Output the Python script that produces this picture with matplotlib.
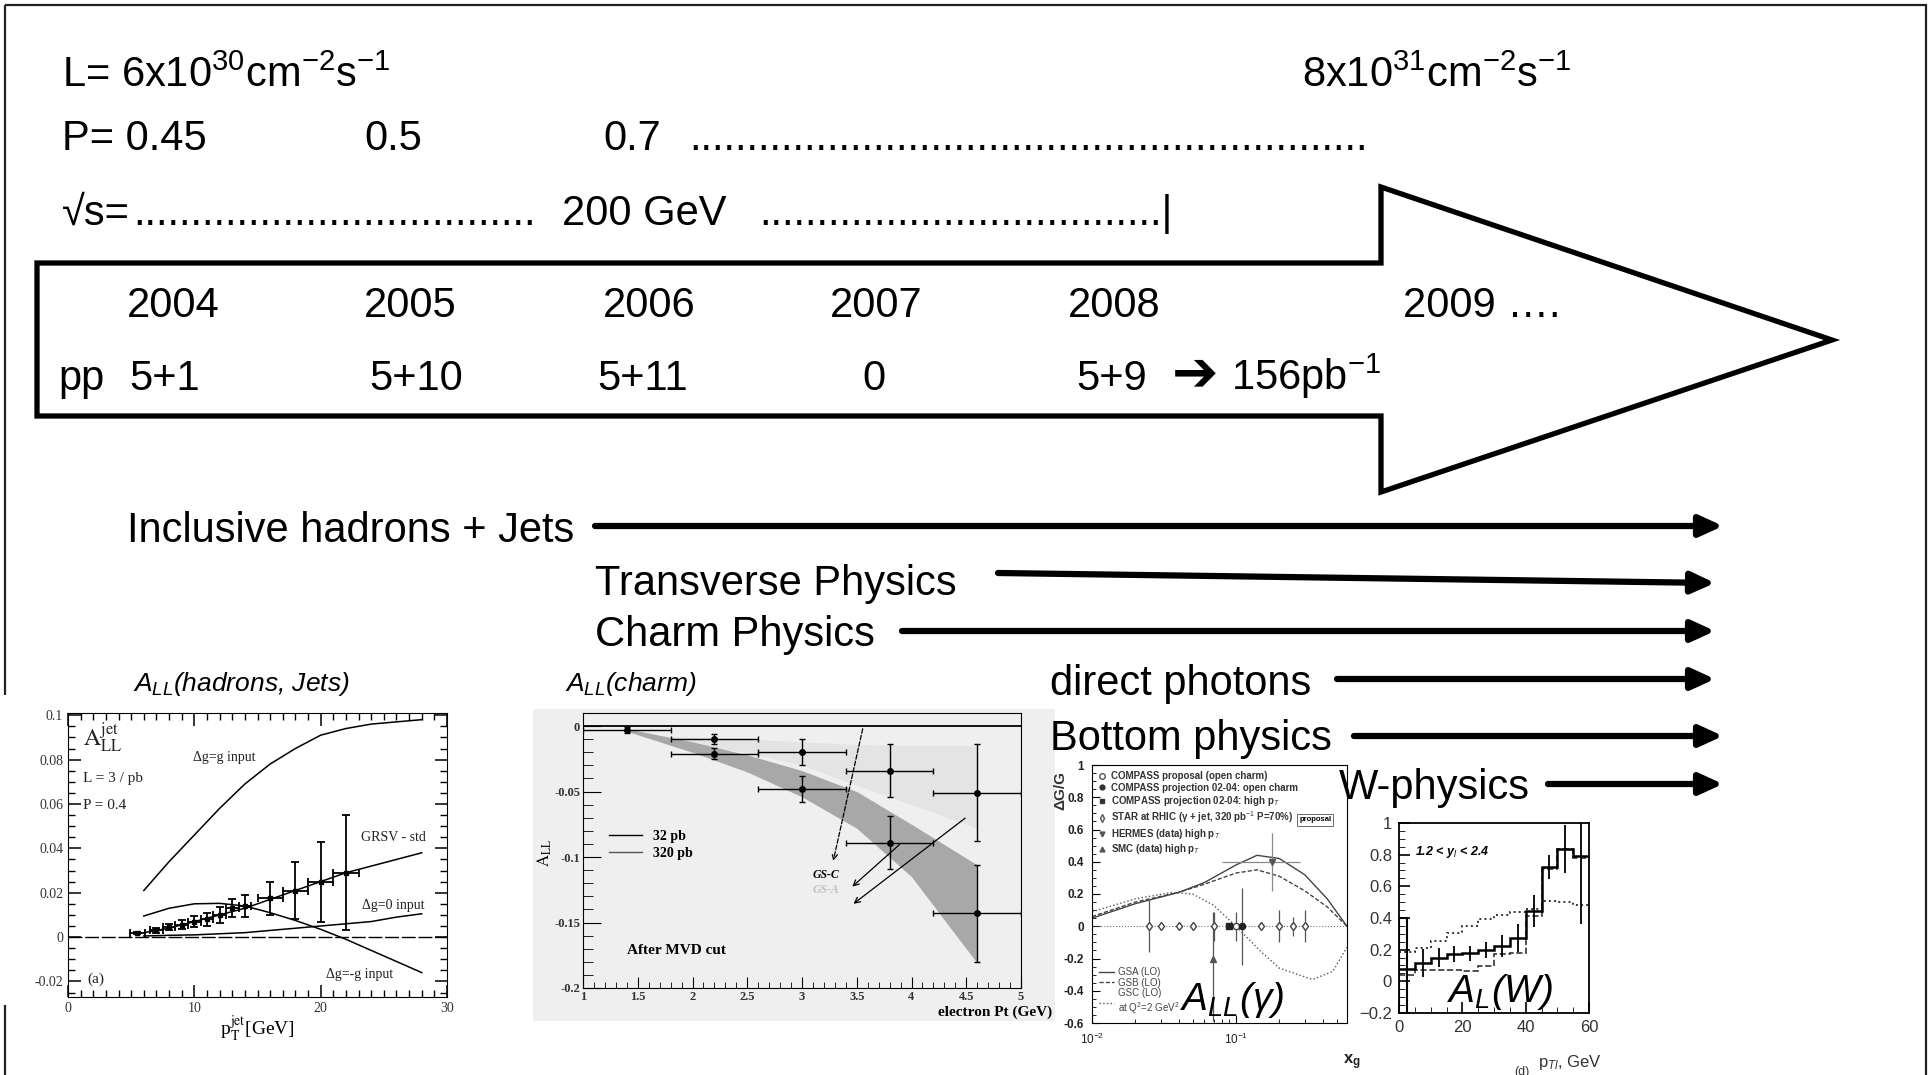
import numpy as np
import matplotlib.pyplot as plt
from matplotlib.patches import Polygon, Rectangle
from matplotlib.lines import Line2D
from matplotlib.ticker import MultipleLocator, NullFormatter

plt.rcParams['font.family'] = ['Liberation Sans', 'DejaVu Sans']
plt.rcParams['mathtext.fontset'] = 'custom'
plt.rcParams['mathtext.rm'] = 'Liberation Sans'
plt.rcParams['mathtext.it'] = 'Liberation Sans:italic'
plt.rcParams['mathtext.bf'] = 'Liberation Sans:bold'

W, H = 1930, 1075
SERIF = ['Liberation Serif', 'DejaVu Serif']

# ---- slide text ----
lumi_start = 'L= 6x10$^{30}$cm$^{-2}$s$^{-1}$'
lumi_end = '8x10$^{31}$cm$^{-2}$s$^{-1}$'
pol_values = ['P= 0.45', '0.5', '0.7']
years = ['2004', '2005', '2006', '2007', '2008', '2009 ….']
pp_runs = ['pp', '5+1', '5+10', '5+11', '0', '5+9']
programs = ['Inclusive hadrons + Jets', 'Transverse Physics', 'Charm Physics',
            'direct photons', 'Bottom physics', 'W-physics']

# positions on the slide (pixels)
pol_x = [62, 364, 603]
year_x = [127, 364, 603, 830, 1068, 1403]
pp_x = [58, 129, 369, 597, 862, 1076]
prog_x = [127, 595, 595, 1050, 1050, 1339]
prog_y = [542, 595, 646, 695, 750, 799]
arrow_x0 = [595, 998, 902, 1337, 1354, 1548]
arrow_y0 = [526, 573, 631, 679, 736, 784]
arrow_x1 = [1723, 1715, 1715, 1715, 1723, 1723]
arrow_y1 = [526, 583, 631, 679, 736, 784]

# ---- A_LL jets ----
jet_curve_pt = [6, 8, 10, 12, 14, 16, 18, 20, 22, 24, 26, 28]
jet_dg_g = [0.021, 0.034, 0.046, 0.058, 0.069, 0.078, 0.085, 0.091, 0.094, 0.096, 0.097, 0.098]
jet_grsv = [0.002, 0.004, 0.007, 0.010, 0.013, 0.017, 0.021, 0.025, 0.029, 0.032, 0.035, 0.038]
jet_dg_0 = [0.0005, 0.0008, 0.001, 0.0015, 0.002, 0.003, 0.004, 0.005, 0.006, 0.007, 0.009, 0.0105]
jet_dg_mg = [0.0095, 0.013, 0.015, 0.0152, 0.014, 0.011, 0.0075, 0.0035, -0.001, -0.006, -0.011, -0.016]
jet_pt = [5.5, 7, 8, 9, 10, 11, 12, 13, 14, 16, 18, 20, 22]
jet_all = [0.002, 0.003, 0.0045, 0.0055, 0.007, 0.008, 0.010, 0.013, 0.014, 0.0175, 0.021, 0.025, 0.029]
jet_err = [0.0005, 0.001, 0.0015, 0.002, 0.0025, 0.003, 0.0035, 0.004, 0.005, 0.0075, 0.013, 0.018, 0.026]
jet_xerr = [0.6, 0.5, 0.5, 0.5, 0.5, 0.5, 0.5, 0.5, 0.5, 1, 1, 1, 1]

# ---- A_LL charm ----
charm_pt = [1.4, 2.2, 2.2, 3.0, 3.0, 3.8, 3.8, 4.6, 4.6]
charm_all = [-0.003, -0.010, -0.021, -0.020, -0.048, -0.034, -0.089, -0.051, -0.143]
charm_err = [0.002, 0.004, 0.004, 0.0098, 0.0098, 0.02, 0.02, 0.037, 0.037]
band_pt = [1.4, 2.0, 2.5, 3.0, 3.5, 4.0, 4.6]
band_up = [-0.002, -0.012, -0.022, -0.034, -0.050, -0.075, -0.106]
band_lo = [-0.004, -0.020, -0.035, -0.054, -0.078, -0.115, -0.181]
light_pt = [1.8, 2.5, 3.0, 3.5, 4.0, 4.6]
light_up = [-0.008, -0.010, -0.012, -0.014, -0.015, -0.015]
light_lo = [-0.012, -0.020, -0.030, -0.045, -0.060, -0.078]

# ---- delta G / G vs x_g ----
gsa_x = [0.01, 0.02, 0.04, 0.06, 0.1, 0.14, 0.2, 0.3, 0.43, 0.59]
gsa_y = [0.05, 0.14, 0.21, 0.27, 0.38, 0.44, 0.42, 0.32, 0.17, 0.0]
gsb_y = [0.06, 0.15, 0.21, 0.26, 0.33, 0.35, 0.31, 0.22, 0.12, 0.0]
gsc_x = [0.01, 0.02, 0.036, 0.05, 0.07, 0.1, 0.15, 0.2, 0.34, 0.47, 0.59]
gsc_y = [0.09, 0.17, 0.21, 0.20, 0.13, 0.0, -0.16, -0.26, -0.33, -0.28, -0.13]
star_x = [0.025, 0.03, 0.04, 0.05, 0.07, 0.15, 0.2, 0.25, 0.3]
star_y = [0, 0, 0, 0, 0, 0, 0, 0, 0]
star_err = [0.16, 0.02, 0.02, 0.02, 0.09, 0.02, 0.1, 0.06, 0.1]
compass_prop = (0.1, 0.0, 0.09)
compass_charm = (0.11, 0.0, 0.24)
compass_hipt = (0.089, 0.0, 0.01)
hermes = (0.178, 0.40, 0.18)
smc = (0.069, -0.2, 0.39, 0.29)

# ---- A_L(W) ----
w_edges = [0, 5, 10, 15, 20, 25, 30, 35, 40, 45, 50, 55, 60]
w_centers = [2.5, 7.5, 12.5, 17.5, 22.5, 27.5, 32.5, 37.5, 42.5, 47.5, 52.5, 57.5]
w_solid = [0.078, 0.117, 0.148, 0.17, 0.176, 0.2, 0.222, 0.275, 0.445, 0.72, 0.837, 0.79]
w_err = [0.03, 0.09, 0.06, 0.05, 0.05, 0.05, 0.07, 0.09, 0.1, 0.075, 0.15, 0.43]
w_dotted = [0.184, 0.21, 0.254, 0.307, 0.35, 0.392, 0.417, 0.44, 0.455, 0.51, 0.5, 0.48]
w_dashed = [0.042, 0.074, 0.074, 0.074, 0.064, 0.095, 0.17, 0.18, 0.41, 0.71, 0.837, 0.78]
w_spike = [0.4]
w_spike_edges = [0, 2.4]


fig = plt.figure(figsize=(W / 100, H / 100), dpi=100)


def px_axes(x0, y0, x1, y1, **kw):
    return fig.add_axes([x0 / W, 1 - y1 / H, (x1 - x0) / W, (y1 - y0) / H], **kw)


def overlay():
    a = px_axes(0, 0, W, H)
    a.set_xlim(0, W)
    a.set_ylim(H, 0)
    a.axis('off')
    a.patch.set_alpha(0)
    return a


# background layer: frame, big arrow, image backgrounds
back = overlay()
back.add_patch(Rectangle((5, 5), 1921, 1090, fill=False, ec='#222222', lw=1.6))
back.add_patch(Rectangle((0, 695), 470, 310, fc='white', ec='none'))
back.add_patch(Rectangle((533, 709), 522, 312, fc='#efefef', ec='none'))
big_arrow = [(37, 263), (1381, 263), (1381, 187), (1832, 340),
             (1381, 492), (1381, 416), (37, 416)]
back.add_patch(Polygon(big_arrow, closed=True, fc='white', ec='black', lw=3.8,
                       joinstyle='miter'))

# ---------- inset 1 : A_LL jets ----------
ax1 = px_axes(68, 713, 447, 997)
for curve in [jet_dg_g, jet_grsv, jet_dg_0, jet_dg_mg]:
    ax1.plot(jet_curve_pt, curve, color='black', lw=1.1)
ax1.axhline(0, color='black', lw=1, dashes=(10, 2))
ax1.errorbar(jet_pt, jet_all, yerr=jet_err, xerr=jet_xerr, fmt='s', ms=3.5,
             color='black', lw=1.3, capsize=3, capthick=1.3)
ax1.set_xlim(0, 30)
ax1.set_ylim(-0.027, 0.101)
ax1.set_xticks([0, 10, 20, 30], ['0', '10', '20', '30'], family=SERIF, fontsize=10)
ax1.set_yticks([-0.02, 0, 0.02, 0.04, 0.06, 0.08, 0.1],
               ['-0.02', '0', '0.02', '0.04', '0.06', '0.08', '0.1'], family=SERIF, fontsize=10)
ax1.xaxis.set_minor_locator(MultipleLocator(1))
ax1.yaxis.set_minor_locator(MultipleLocator(0.005))
ax1.tick_params(which='both', direction='in', top=True, right=True, labelcolor='#333333')
ax1.tick_params(which='major', length=9, width=1.1)
ax1.tick_params(which='minor', length=5, width=1)
ax1.set_xlabel(r'p$_{\mathrm{T}}^{\mathrm{jet}}$[GeV]', family=SERIF, fontsize=14,
               labelpad=0, math_fontfamily='stix')
t_kw = dict(family=SERIF, math_fontfamily='stix', color='#222222')
ax1.text(1.2, 0.09, r'$\mathrm{A^{jet}_{LL}}$', fontsize=17, va='center', **t_kw)
ax1.text(1.2, 0.0716, 'L = 3 / pb', fontsize=11, va='center', **t_kw)
ax1.text(1.2, 0.0595, 'P = 0.4', fontsize=11, va='center', **t_kw)
ax1.text(1.5, -0.019, '(a)', fontsize=11, va='center', **t_kw)
ax1.text(9.9, 0.081, 'Δg=g input', fontsize=10, va='center', **t_kw)
ax1.text(23.2, 0.045, 'GRSV - std', fontsize=10, va='center', **t_kw)
ax1.text(23.3, 0.0144, 'Δg=0 input', fontsize=10, va='center', **t_kw)
ax1.text(20.4, -0.017, 'Δg=-g input', fontsize=10, va='center', **t_kw)

# ---------- inset 2 : A_LL charm ----------
ax2 = px_axes(583, 713, 1021, 988, facecolor='#efefef')
ax2.fill_between(light_pt, light_up, light_lo, color='#e4e4e4', lw=0)
ax2.fill_between(band_pt, band_up, band_lo, color='#a8a8a8', lw=0)
ax2.axhline(0, color='black', lw=1.3)
ax2.errorbar(charm_pt, charm_all, xerr=0.4, yerr=charm_err, fmt='o', ms=4,
             color='black', lw=1, capsize=2.5)
ax2.set_xlim(1, 5)
ax2.set_ylim(-0.2, 0.01)
bold_serif = dict(family=SERIF, fontsize=9, fontweight='bold')
ax2.set_xticks([1, 1.5, 2, 2.5, 3, 3.5, 4, 4.5, 5],
               ['1', '1.5', '2', '2.5', '3', '3.5', '4', '4.5', '5'], **bold_serif)
ax2.set_yticks([-0.2, -0.15, -0.1, -0.05, 0], ['-0.2', '-0.15', '-0.1', '-0.05', '0'], **bold_serif)
ax2.xaxis.set_minor_locator(MultipleLocator(0.1))
ax2.yaxis.set_minor_locator(MultipleLocator(0.01))
ax2.tick_params(which='both', direction='in', labelcolor='#333333', pad=2)
ax2.tick_params(axis='y', which='major', length=13)
ax2.tick_params(axis='y', which='minor', length=7)
ax2.tick_params(axis='x', which='major', length=8)
ax2.tick_params(axis='x', which='minor', length=4)
ax2.legend([Line2D([], [], color='black', lw=1), Line2D([], [], color='#555555', lw=1)],
           ['32 pb', '320 pb'], loc='center left', bbox_to_anchor=(0.03, 0.52),
           frameon=False, handlelength=2.4, labelspacing=0.3,
           prop={'family': SERIF, 'weight': 'bold', 'size': 10})
ax2.text(1.4, -0.171, 'After MVD cut', family=SERIF, fontweight='bold', fontsize=11, va='center')
ax2.text(3.1, -0.114, 'GS-C', family=SERIF, style='italic', fontweight='bold', fontsize=8.5, va='center')
ax2.text(3.1, -0.125, 'GS-A', family=SERIF, style='italic', fontweight='bold', fontsize=8.5,
         va='center', color='#c0c0c0')
ax2.annotate('', xy=(3.28, -0.105), xytext=(3.56, 0),
             arrowprops=dict(arrowstyle='->', lw=0.9, ls='--', color='black'))
ax2.annotate('', xy=(3.44, -0.124), xytext=(3.91, -0.089),
             arrowprops=dict(arrowstyle='->', lw=0.9, color='black'))
ax2.annotate('', xy=(3.45, -0.137), xytext=(4.51, -0.069),
             arrowprops=dict(arrowstyle='->', lw=0.9, color='black'))
ax2.text(1.07, -0.087, 'electron Pt (GeV)', transform=ax2.transAxes, ha='right', va='center',
         family=SERIF, fontweight='bold', fontsize=11)
ax2.text(-0.087, 0.49, r'$\mathrm{A_{LL}}$', transform=ax2.transAxes, rotation=90,
         ha='center', va='center', fontsize=12, family=SERIF, math_fontfamily='stix')

# ---------- inset 3 : delta G / G ----------
ax3 = px_axes(1092, 765, 1347, 1023)
ax3.set_xscale('log')
ax3.axhline(0, color='#777777', lw=0.8, ls=':')
l_gsa, = ax3.plot(gsa_x, gsa_y, color='#444444', lw=1)
l_gsb, = ax3.plot(gsa_x, gsb_y, color='#444444', lw=1, ls='--', dashes=(3, 1.5))
l_gsc, = ax3.plot(gsc_x, gsc_y, color='#555555', lw=1, ls=':')
err_kw = dict(ecolor='#555555', elinewidth=0.9, ms=4.5)
ax3.errorbar(star_x, star_y, yerr=star_err, fmt='d', mfc='white', mec='#444444', **err_kw)
ax3.errorbar([compass_prop[0]], [compass_prop[1]], yerr=[compass_prop[2]], fmt='o',
             mfc='white', mec='#444444', **err_kw)
ax3.errorbar([compass_charm[0]], [compass_charm[1]], yerr=[compass_charm[2]], fmt='o',
             color='#222222', **err_kw)
ax3.errorbar([compass_hipt[0]], [compass_hipt[1]], yerr=[compass_hipt[2]], fmt='s',
             color='#222222', **err_kw)
ax3.errorbar([hermes[0]], [hermes[1]], yerr=[hermes[2]], xerr=[[0.098], [0.102]], fmt='v',
             color='#555555', ms=4, ecolor='#888888', elinewidth=0.9)
ax3.errorbar([smc[0]], [smc[1]], yerr=[[smc[2]], [smc[3]]], fmt='^',
             color='#555555', ms=4, ecolor='#555555', elinewidth=0.9)
ax3.set_xlim(0.01, 0.59)
ax3.set_ylim(-0.6, 1.0)
ax3.set_xticks([0.01, 0.1], ['10$^{-2}$', '10$^{-1}$'], fontsize=8.5)
ax3.xaxis.set_minor_formatter(NullFormatter())
ax3.set_yticks([-0.6, -0.4, -0.2, 0, 0.2, 0.4, 0.6, 0.8, 1],
               ['-0.6', '-0.4', '-0.2', '0', '0.2', '0.4', '0.6', '0.8', '1'],
               fontsize=8.5, fontweight='bold')
ax3.yaxis.set_minor_locator(MultipleLocator(0.05))
ax3.tick_params(which='both', direction='in', labelcolor='#222222', pad=6)
ax3.tick_params(which='major', length=6)
ax3.tick_params(which='minor', length=3)
marker_handles = [
    Line2D([], [], marker='o', ls='none', mfc='white', mec='#555555', ms=4),
    Line2D([], [], marker='o', ls='none', color='#333333', ms=3.5),
    Line2D([], [], marker='s', ls='none', color='#333333', ms=3.5),
    Line2D([], [], marker='d', ls='none', mfc='white', mec='#555555', ms=4),
    Line2D([], [], marker='v', ls='none', color='#555555', ms=3.5),
    Line2D([], [], marker='^', ls='none', color='#555555', ms=3.5),
]
marker_labels = ['COMPASS proposal (open charm)', 'COMPASS projection 02-04: open charm',
                 'COMPASS projection 02-04: high p$_T$',
                 'STAR at RHIC (γ + jet, 320 pb$^{-1}$ P=70%)',
                 'HERMES (data) high p$_T$', 'SMC (data) high p$_T$']
leg1 = ax3.legend(marker_handles, marker_labels, loc='upper left', frameon=False,
                  handlelength=0.8, handletextpad=0.5, labelspacing=0.15,
                  borderaxespad=0.25, prop={'size': 7, 'weight': 'bold'},
                  labelcolor='#333333')
ax3.add_artist(leg1)
ax3.legend([l_gsa, l_gsb, l_gsc], ['GSA (LO)', 'GSB (LO)', 'GSC (LO)\nat Q$^2$=2 GeV$^2$'],
           loc='lower left', frameon=False, handlelength=1.6, handletextpad=0.4,
           labelspacing=0.05, borderaxespad=0.3, prop={'size': 7}, labelcolor='#444444')
ax3.text(0.875, 0.787, 'proposal', transform=ax3.transAxes, ha='center', va='center',
         fontsize=5.5, fontweight='bold',
         bbox=dict(fc='white', ec='#555555', lw=0.6, pad=1.5))
ax3.text(-0.125, 0.9, 'ΔG/G', transform=ax3.transAxes, rotation=90, ha='center',
         va='center', fontsize=11, fontweight='bold', color='#333333')
ax3.text(1.02, -0.15, 'x$_\\mathbf{g}$', transform=ax3.transAxes, ha='center', va='center',
         fontsize=12, fontweight='bold', color='#222222')

# ---------- inset 4 : A_L(W) ----------
ax4 = px_axes(1399, 823, 1589, 1013)
ax4.stairs(w_dotted, w_edges, baseline=None, color='#333333', lw=1.4, ls=':')
ax4.stairs(w_dashed, w_edges, baseline=None, color='#333333', lw=1.2, ls='--')
ax4.stairs(w_solid, w_edges, baseline=None, color='black', lw=1.8)
ax4.stairs(w_spike, w_spike_edges, baseline=-0.2, color='black', lw=1.5)
ax4.errorbar(w_centers, w_solid, yerr=w_err, fmt='none', ecolor='black', elinewidth=1.3)
ax4.set_xlim(0, 60)
ax4.set_ylim(-0.2, 1.0)
ax4.set_xticks([0, 20, 40, 60], ['0', '20', '40', '60'], fontsize=12)
ax4.set_yticks([-0.2, 0, 0.2, 0.4, 0.6, 0.8, 1],
               ['\u22120.2', '0', '0.2', '0.4', '0.6', '0.8', '1'], fontsize=12)
ax4.xaxis.set_minor_locator(MultipleLocator(5))
ax4.yaxis.set_minor_locator(MultipleLocator(0.05))
ax4.tick_params(which='both', direction='in', labelcolor='#333333', pad=5)
ax4.tick_params(which='major', length=8, width=1.2)
ax4.tick_params(which='minor', length=4)
for s in ax4.spines.values():
    s.set_linewidth(1.3)
ax4.text(5, 0.82, '1.2 < y$_l$ < 2.4', fontsize=9, fontweight='bold', style='italic',
         va='center')
ax4.text(0.9, -0.263, 'p$_{Tl}$, GeV', transform=ax4.transAxes, ha='center', va='center',
         fontsize=12, color='#333333')
ax4.text(0.647, -0.31, '(d)', transform=ax4.transAxes, ha='center', va='center',
         fontsize=9, color='#333333')

# ---------- top layer : slide text and program arrows ----------
top = overlay()
FS = 30
top.text(62, 87, lumi_start, fontsize=FS, va='baseline')
top.text(1302, 87, lumi_end, fontsize=FS, va='baseline')
for x, s in zip(pol_x, pol_values):
    top.text(x, 150, s, fontsize=FS, va='baseline')
top.text(689, 150, '.' * 59, fontsize=FS, va='baseline')
top.text(62, 225, '√s=', fontsize=FS, va='baseline')
top.text(133, 225, '.' * 35, fontsize=FS, va='baseline')
top.text(562, 225, '200 GeV', fontsize=FS, va='baseline')
top.text(759, 225, '.' * 35 + '|', fontsize=FS, va='baseline')
for x, s in zip(year_x, years):
    top.text(x, 317, s, fontsize=FS, va='baseline')
for x, s in zip(pp_x, pp_runs):
    top.text(x, 390, s, fontsize=FS, va='baseline')
top.text(1172, 390, '➔', fontsize=40, va='baseline', family=['DejaVu Sans'])
top.text(1231, 390, '156pb$^{-1}$', fontsize=FS, va='baseline')

for i in range(len(programs)):
    top.text(prog_x[i], prog_y[i], programs[i], fontsize=FS, va='baseline')
    top.annotate('', xy=(arrow_x1[i], arrow_y1[i]), xytext=(arrow_x0[i], arrow_y0[i]),
                 arrowprops=dict(arrowstyle='-|>,head_length=0.7,head_width=0.32',
                                 lw=4.5, color='black', shrinkA=0, shrinkB=0,
                                 mutation_scale=20))

top.text(133, 691, '$A_{LL}$(hadrons, Jets)', fontsize=19, style='italic', va='baseline')
top.text(565, 691, '$A_{LL}$(charm)', fontsize=19, style='italic', va='baseline')
top.text(1180, 1010, '$A_{LL}$(γ)', fontsize=28, style='italic', va='baseline')
top.text(1447, 1002, '$A_L$(W)', fontsize=28, style='italic', va='baseline')

plt.savefig('out.png', dpi=100)
